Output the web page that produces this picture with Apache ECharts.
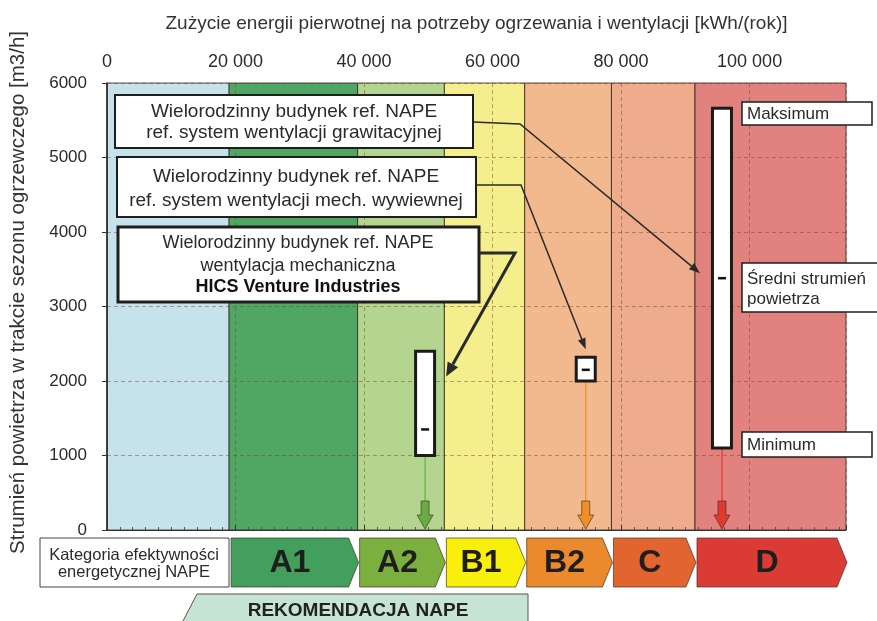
<!DOCTYPE html>
<html>
<head>
<meta charset="utf-8">
<title>Strumień powietrza a zużycie energii</title>
<script src="https://cdn.jsdelivr.net/npm/echarts@6.0.0/dist/echarts.min.js"></script>
<style>
  html, body { margin: 0; padding: 0; background: #fff; }
  #chart { width: 877px; height: 621px; }
</style>
</head>
<body>
<div id="chart"></div>
<script>
// energy class bands on the x axis [kWh/rok]
const bandEdges = [0, 19000, 39000, 52500, 65000, 78500, 91500, 115000];
const classNames = ['', 'A1', 'A2', 'B1', 'B2', 'C', 'D'];

// reference buildings: energy use and air flow range [m3/h]
const buildings = ['HICS Venture Industries', 'wentylacja mech. wywiewna', 'wentylacja grawitacyjna'];
const energyUse = [49500, 74500, 95700];
const flowMin = [1000, 2000, 1100];
const flowMax = [2400, 2320, 5660];
const flowMean = [1350, 2150, 3380];

const yMax = 6000;

// colours
const bandColors = ['#c6e2ea', '#50a764', '#b4d58f', '#f4ef8c', '#f1b98d', '#eeac8c', '#e1827f'];
const classColors = ['', '#42a05c', '#7cb03e', '#f8ef0a', '#ea8a2c', '#e2652f', '#da3c35'];
const dropColors = ['#6aab45', '#ec9027', '#dc3b32'];
const FONT = "'Liberation Sans', Arial, sans-serif";

const chart = echarts.init(document.getElementById('chart'));

const fmtX = (v) => (v === 0 ? '0' : String(v).replace(/\B(?=(\d{3})+(?!\d))/g, ' '));

const option = {
  animation: false,
  textStyle: { fontFamily: FONT },
  grid: { left: 105, right: 31, top: 83, bottom: 91 },
  xAxis: {
    type: 'value',
    position: 'top',
    min: 0,
    max: bandEdges[bandEdges.length - 1],
    interval: 20000,
    z: 1,
    name: 'Zużycie energii pierwotnej na potrzeby ogrzewania i wentylacji [kWh/(rok)]',
    nameLocation: 'middle',
    nameGap: 50,
    nameTextStyle: { fontSize: 19, color: '#333', fontFamily: FONT },
    axisLine: { show: true, lineStyle: { color: '#333', width: 1 } },
    axisTick: { show: true, length: 5, lineStyle: { color: '#333' } },
    minorTick: { show: true, splitNumber: 10, length: 3, lineStyle: { color: '#555' } },
    axisLabel: { fontSize: 18, color: '#2a2a2a', margin: 12, formatter: fmtX, showMaxLabel: false },
    splitLine: { show: true, lineStyle: { color: 'rgba(110,60,30,0.45)', type: [4, 3], width: 1 } }
  },
  yAxis: {
    type: 'value',
    min: 0,
    max: yMax,
    interval: 1000,
    z: 1,
    name: 'Strumień powietrza w trakcie sezonu ogrzewczego [m3/h]',
    nameLocation: 'middle',
    nameGap: 78,
    nameTextStyle: { fontSize: 20.5, color: '#333', fontFamily: FONT, padding: [0, 0, 0, 28] },
    axisLine: { show: true, lineStyle: { color: '#222', width: 1.5 } },
    axisTick: { show: true, length: 5, lineStyle: { color: '#333' } },
    axisLabel: { fontSize: 17, color: '#2a2a2a', margin: 20, formatter: (v) => String(v) },
    splitLine: { show: true, lineStyle: { color: 'rgba(110,60,30,0.45)', type: [4, 3], width: 1 } }
  },
  series: [
    {
      // coloured energy class bands
      type: 'custom',
      z: 0,
      silent: true,
      data: bandEdges.slice(0, -1).map((e, i) => [e, bandEdges[i + 1], i]),
      renderItem: (params, api) => {
        const a = api.coord([api.value(0), yMax]);
        const b = api.coord([api.value(1), 0]);
        return {
          type: 'rect',
          shape: { x: a[0], y: a[1], width: b[0] - a[0], height: b[1] - a[1] },
          style: { fill: bandColors[api.value(2)], stroke: 'rgba(50,35,25,0.8)', lineWidth: 1 }
        };
      }
    },
    {
      // class arrows under the plot
      type: 'custom',
      z: 3,
      clip: false,
      silent: true,
      data: bandEdges.slice(1, -1).map((e, i) => [e, bandEdges[i + 2], i + 1]),
      renderItem: (params, api) => {
        const idx = api.value(2);
        const p0 = api.coord([api.value(0), 0]);
        const p1 = api.coord([api.value(1), 0]);
        const x0 = p0[0] + 2, x1 = p1[0] + 1;
        const top = p0[1] + 8, bot = p0[1] + 57, mid = (top + bot) / 2;
        const tip = 10;
        return {
          type: 'group',
          children: [
            {
              type: 'polygon',
              shape: { points: [[x0, top], [x1 - tip, top], [x1, mid], [x1 - tip, bot], [x0, bot]] },
              style: { fill: classColors[idx], stroke: 'rgba(70,50,40,0.7)', lineWidth: 1 }
            },
            {
              type: 'text',
              style: {
                text: classNames[idx], x: (x0 + x1 - tip) / 2, y: mid + 1,
                align: 'center', verticalAlign: 'middle',
                fontSize: 32, fontWeight: 'bold', fontFamily: FONT, fill: '#1e1e1e'
              }
            }
          ]
        };
      }
    },
    {
      // air flow range of each reference building
      type: 'custom',
      z: 4,
      clip: false,
      name: 'Strumień powietrza',
      data: energyUse.map((x, i) => [x, flowMin[i], flowMax[i], flowMean[i], i]),
      renderItem: (params, api) => {
        const x = api.value(0);
        const i = api.value(4);
        const pMin = api.coord([x, api.value(1)]);
        const pMax = api.coord([x, api.value(2)]);
        const pMean = api.coord([x, api.value(3)]);
        const p0 = api.coord([x, 0]);
        const w = 19;
        const cx = pMin[0];
        const aTop = p0[1] - 29, aHead = p0[1] - 15, aTip = p0[1] - 1;
        const col = dropColors[i];
        return {
          type: 'group',
          children: [
            { type: 'line', shape: { x1: cx, y1: pMin[1], x2: cx, y2: aTop }, style: { stroke: col, lineWidth: 1.2 } },
            {
              type: 'polygon',
              shape: { points: [[cx - 4, aTop], [cx + 4, aTop], [cx + 4, aHead], [cx + 8, aHead], [cx, aTip], [cx - 8, aHead], [cx - 4, aHead]] },
              style: { fill: col, stroke: 'rgba(60,40,20,0.6)', lineWidth: 1 }
            },
            {
              type: 'rect',
              shape: { x: cx - w / 2, y: pMax[1], width: w, height: pMin[1] - pMax[1] },
              style: { fill: '#fff', stroke: '#1b1b1b', lineWidth: 3 }
            },
            { type: 'line', shape: { x1: cx - 4, y1: pMean[1], x2: cx + 4, y2: pMean[1] }, style: { stroke: '#111', lineWidth: 2.5 } }
          ]
        };
      }
    }
  ]
};

chart.setOption(option);

// annotation boxes and connectors
function arrowHead(from, to, len, half) {
  const dx = to[0] - from[0], dy = to[1] - from[1];
  const d = Math.hypot(dx, dy);
  const ux = dx / d, uy = dy / d;
  const bx = to[0] - ux * len, by = to[1] - uy * len;
  return [[to[0], to[1]], [bx - uy * half, by + ux * half], [bx + uy * half, by - ux * half]];
}

function connector(points, width, len, half) {
  const n = points.length;
  const head = arrowHead(points[n - 2], points[n - 1], len, half);
  const base = [(head[1][0] + head[2][0]) / 2, (head[1][1] + head[2][1]) / 2];
  const line = points.slice(0, -1).concat([base]);
  return [
    { type: 'polyline', z: 12, shape: { points: line }, style: { stroke: '#2a2a2a', lineWidth: width, fill: null } },
    { type: 'polygon', z: 12, shape: { points: head }, style: { fill: '#2a2a2a' } }
  ];
}

function box(x, y, w, h, lw) {
  return { type: 'rect', z: 10, shape: { x: x, y: y, width: w, height: h }, style: { fill: '#fff', stroke: '#1e1e1e', lineWidth: lw } };
}

function label(text, x, y, opts) {
  return {
    type: 'text', z: 11,
    style: Object.assign({
      text: text, x: x, y: y, align: 'center', verticalAlign: 'middle',
      fontSize: 19, fontFamily: FONT, fill: '#2a2a2a'
    }, opts || {})
  };
}

const px = (i, v) => chart.convertToPixel({ gridIndex: 0 }, [energyUse[i], v]);
const tipHics = px(0, 2060); tipHics[0] += 21;
const tipMech = px(1, flowMax[1]); tipMech[1] -= 8;
const tipGraw = px(2, flowMean[2]); tipGraw[0] -= 22; tipGraw[1] -= 5;

const graphics = [
  box(115, 95, 358, 53, 2),
  label('Wielorodzinny budynek ref. NAPE', 294, 112),
  label('ref. system wentylacji grawitacyjnej', 294, 133),
  box(117, 157, 359, 60, 2),
  label('Wielorodzinny budynek ref. NAPE', 296, 177),
  label('ref. system wentylacji mech. wywiewnej', 296, 201),
  box(118, 227, 361, 75, 3),
  label('Wielorodzinny budynek ref. NAPE', 298, 243, { fontSize: 18 }),
  label('wentylacja mechaniczna', 298, 266, { fontSize: 18 }),
  label('HICS Venture Industries', 298, 287, { fontSize: 18, fontWeight: 'bold', fill: '#111' }),

  box(742, 102, 130, 23, 1.5),
  label('Maksimum', 747, 114, { align: 'left', fontSize: 17 }),
  box(742, 263, 140, 49, 1.5),
  label('Średni strumień', 747, 279, { align: 'left', fontSize: 17 }),
  label('powietrza', 747, 299, { align: 'left', fontSize: 17 }),
  box(742, 432, 130, 25, 1.5),
  label('Minimum', 747, 445, { align: 'left', fontSize: 17 }),

  { type: 'rect', z: 10, shape: { x: 40, y: 538, width: 189, height: 49 }, style: { fill: '#fff', stroke: '#444', lineWidth: 1 } },
  label('Kategoria efektywności', 134, 555, { fontSize: 16.5 }),
  label('energetycznej NAPE', 134, 572, { fontSize: 16.5 }),

  {
    type: 'polygon', z: 10,
    shape: { points: [[197, 594], [528, 594], [528, 648], [197, 648], [183, 621]] },
    style: { fill: '#c5e4d4', stroke: '#555', lineWidth: 1 }
  },
  label('REKOMENDACJA NAPE', 358, 611, { fontSize: 19, fontWeight: 'bold', fill: '#222' })
]
  .concat(connector([[473, 122], [520, 124], tipGraw], 1.5, 11, 4))
  .concat(connector([[476, 185], [521, 185], tipMech], 1.5, 11, 4))
  .concat(connector([[479, 253], [515, 253], tipHics], 3, 14, 6));

chart.setOption({ graphic: graphics });

window.addEventListener('resize', () => chart.resize());
</script>
</body>
</html>
